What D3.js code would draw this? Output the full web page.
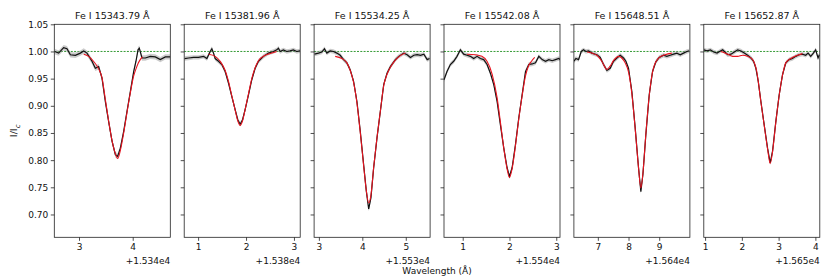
<!DOCTYPE html>
<html>
<head>
<meta charset="utf-8">
<script src="https://cdn.jsdelivr.net/npm/d3@7"></script>
<style>
  body { margin: 0; background: #fff; }
  text { font-family: "DejaVu Sans", sans-serif; }
</style>
</head>
<body>
<div id="plot"></div>
<script>
const width = 830;
const height = 277;

// line titles and the offset printed under each x axis
const titles = ["Fe I 15343.79 Å", "Fe I 15381.96 Å", "Fe I 15534.25 Å", "Fe I 15542.08 Å", "Fe I 15648.51 Å", "Fe I 15652.87 Å"];
const offsets = [15340, 15380, 15530, 15540, 15640, 15650];
const offsetLabels = ["+1.534e4", "+1.538e4", "+1.553e4", "+1.554e4", "+1.564e4", "+1.565e4"];

// x ranges (Å, relative to the offset) and tick values
const xRanges = [[2.54, 4.70], [0.71, 3.13], [2.89, 5.56], [0.60, 3.08], [6.22, 10.0], [0.965, 4.12]];
const xTicks = [[3, 4], [1, 2, 3], [3, 4, 5], [1, 2, 3], [7, 8, 9], [1, 2, 3, 4]];
const yTicks = [0.70, 0.75, 0.80, 0.85, 0.90, 0.95, 1.00, 1.05];
const yRange = [0.658, 1.05];

// flux uncertainty (grey band)
const sigmas = [0.005, 0.004, 0.004, 0.004, 0.004, 0.004];

// observed spectra
const obsWave1 = [2.547, 2.621, 2.714, 2.776, 2.839, 2.932, 3.025, 3.087, 3.149, 3.242, 3.304, 3.366, 3.428, 3.490, 3.552, 3.615, 3.677, 3.720, 3.770, 3.832, 3.894, 3.956, 4.018, 4.061, 4.099, 4.123, 4.173, 4.235, 4.328, 4.421, 4.514, 4.608, 4.701];
const obsFlux1 = [1.000, 0.997, 1.007, 1.005, 0.994, 0.993, 0.997, 1.001, 0.997, 0.982, 0.969, 0.972, 0.951, 0.908, 0.871, 0.835, 0.810, 0.807, 0.822, 0.853, 0.890, 0.926, 0.963, 0.982, 1.003, 1.006, 0.988, 0.988, 0.991, 0.990, 0.985, 0.990, 0.990];

const obsWave2 = [0.718, 0.801, 0.905, 1.009, 1.114, 1.183, 1.252, 1.287, 1.322, 1.356, 1.426, 1.495, 1.565, 1.634, 1.704, 1.773, 1.829, 1.877, 1.926, 1.981, 2.051, 2.120, 2.190, 2.259, 2.364, 2.468, 2.572, 2.641, 2.676, 2.711, 2.780, 2.850, 2.919, 2.988, 3.058, 3.127];
const obsFlux2 = [0.987, 0.988, 0.989, 0.989, 0.991, 0.987, 1.000, 1.005, 0.997, 0.987, 0.982, 0.976, 0.963, 0.942, 0.917, 0.893, 0.874, 0.866, 0.874, 0.893, 0.920, 0.948, 0.969, 0.982, 0.991, 0.997, 1.000, 1.003, 1.006, 1.000, 1.003, 1.000, 1.001, 1.003, 1.000, 1.001];

const obsWave3 = [2.899, 2.991, 3.068, 3.129, 3.183, 3.260, 3.337, 3.414, 3.491, 3.568, 3.645, 3.722, 3.799, 3.876, 3.953, 4.030, 4.092, 4.146, 4.199, 4.261, 4.338, 4.415, 4.492, 4.569, 4.646, 4.761, 4.838, 4.954, 5.031, 5.108, 5.185, 5.262, 5.339, 5.416, 5.493, 5.547];
const obsFlux3 = [0.995, 0.997, 0.999, 1.005, 0.997, 1.001, 1.000, 0.997, 0.993, 0.985, 0.979, 0.966, 0.945, 0.908, 0.853, 0.792, 0.743, 0.710, 0.731, 0.786, 0.841, 0.890, 0.939, 0.960, 0.972, 0.985, 0.991, 0.997, 0.994, 0.989, 0.993, 0.994, 0.993, 0.995, 0.985, 0.987];

const obsWave4 = [0.600, 0.664, 0.736, 0.807, 0.878, 0.950, 1.021, 1.093, 1.164, 1.235, 1.307, 1.378, 1.449, 1.521, 1.592, 1.664, 1.735, 1.806, 1.878, 1.949, 1.999, 2.056, 2.127, 2.199, 2.270, 2.342, 2.413, 2.484, 2.556, 2.627, 2.699, 2.770, 2.841, 2.913, 2.984, 3.055, 3.080];
const obsFlux4 = [0.948, 0.963, 0.976, 0.982, 0.991, 1.003, 0.995, 0.993, 0.991, 0.987, 0.991, 0.987, 0.985, 0.976, 0.960, 0.939, 0.908, 0.865, 0.822, 0.786, 0.770, 0.786, 0.828, 0.878, 0.920, 0.963, 0.976, 0.977, 0.979, 0.991, 0.985, 0.982, 0.985, 0.983, 0.985, 0.987, 0.985];

const obsWave5 = [6.220, 6.285, 6.372, 6.459, 6.535, 6.611, 6.698, 6.806, 6.969, 7.078, 7.186, 7.295, 7.403, 7.512, 7.621, 7.729, 7.838, 7.914, 8.001, 8.109, 8.218, 8.326, 8.402, 8.468, 8.565, 8.674, 8.782, 8.891, 9.000, 9.141, 9.249, 9.358, 9.466, 9.575, 9.684, 9.792, 9.901, 9.977];
const obsFlux5 = [0.982, 0.987, 0.985, 1.000, 1.003, 1.000, 1.001, 0.997, 0.994, 0.989, 0.976, 0.965, 0.969, 0.982, 0.988, 0.993, 0.988, 0.982, 0.969, 0.926, 0.859, 0.786, 0.742, 0.773, 0.847, 0.920, 0.963, 0.981, 0.989, 0.993, 0.991, 0.993, 0.995, 0.997, 0.994, 0.997, 1.000, 1.001];

const obsWave6 = [0.965, 1.054, 1.145, 1.235, 1.325, 1.416, 1.479, 1.524, 1.615, 1.705, 1.795, 1.886, 1.976, 2.066, 2.157, 2.247, 2.319, 2.382, 2.446, 2.518, 2.608, 2.699, 2.771, 2.834, 2.924, 3.015, 3.105, 3.195, 3.286, 3.376, 3.466, 3.557, 3.647, 3.737, 3.801, 3.873, 3.945, 4.008, 4.072, 4.108];
const obsFlux6 = [1.003, 1.001, 1.003, 0.999, 0.997, 1.001, 1.003, 1.000, 0.994, 0.995, 0.999, 1.003, 1.001, 0.997, 0.993, 0.988, 0.982, 0.969, 0.945, 0.908, 0.865, 0.822, 0.795, 0.816, 0.871, 0.920, 0.957, 0.979, 0.985, 0.987, 0.991, 0.994, 0.995, 0.993, 0.997, 0.991, 0.997, 1.003, 0.988, 0.994];

// fitted profiles
const fitWave1 = [3.087, 3.18, 3.27, 3.366, 3.428, 3.49, 3.552, 3.615, 3.677, 3.72, 3.77, 3.832, 3.894, 3.956, 4.018, 4.061, 4.10, 4.14, 4.18];
const fitFlux1 = [0.995, 0.991, 0.982, 0.968, 0.952, 0.912, 0.872, 0.836, 0.812, 0.803, 0.818, 0.850, 0.888, 0.924, 0.955, 0.968, 0.978, 0.985, 0.990];

const fitWave2 = [1.22, 1.356, 1.46, 1.565, 1.634, 1.704, 1.773, 1.829, 1.877, 1.926, 1.981, 2.051, 2.12, 2.19, 2.259, 2.40, 2.54, 2.64];
const fitFlux2 = [0.995, 0.991, 0.982, 0.965, 0.945, 0.918, 0.892, 0.872, 0.864, 0.872, 0.893, 0.922, 0.950, 0.970, 0.983, 0.993, 0.997, 1.000];

const fitWave3 = [3.375, 3.53, 3.645, 3.722, 3.799, 3.876, 3.953, 4.030, 4.092, 4.146, 4.199, 4.261, 4.338, 4.415, 4.492, 4.569, 4.646, 4.761, 4.85, 4.99];
const fitFlux3 = [0.991, 0.987, 0.979, 0.965, 0.943, 0.905, 0.851, 0.790, 0.744, 0.721, 0.736, 0.787, 0.842, 0.890, 0.937, 0.958, 0.971, 0.984, 0.991, 0.997];

const fitWave4 = [1.093, 1.27, 1.41, 1.52, 1.63, 1.735, 1.806, 1.878, 1.949, 1.999, 2.056, 2.127, 2.199, 2.27, 2.342, 2.40, 2.47, 2.54];
const fitFlux4 = [0.995, 0.994, 0.991, 0.982, 0.958, 0.915, 0.870, 0.822, 0.784, 0.768, 0.784, 0.826, 0.876, 0.918, 0.955, 0.972, 0.982, 0.989];

const fitWave5 = [6.65, 6.806, 6.97, 7.13, 7.295, 7.40, 7.51, 7.675, 7.78, 7.89, 8.001, 8.109, 8.218, 8.326, 8.402, 8.468, 8.565, 8.674, 8.81, 9.0, 9.19, 9.41];
const fitFlux5 = [0.999, 0.997, 0.993, 0.982, 0.967, 0.973, 0.983, 0.991, 0.988, 0.979, 0.962, 0.922, 0.857, 0.786, 0.749, 0.775, 0.848, 0.918, 0.969, 0.989, 0.994, 0.997];

const fitWave6 = [1.43, 1.615, 1.75, 1.886, 2.02, 2.157, 2.27, 2.34, 2.40, 2.446, 2.518, 2.608, 2.699, 2.771, 2.834, 2.924, 3.015, 3.105, 3.195, 3.33, 3.51, 3.647];
const fitFlux6 = [1.000, 0.995, 0.991, 0.991, 0.993, 0.991, 0.987, 0.979, 0.965, 0.945, 0.907, 0.864, 0.821, 0.794, 0.815, 0.870, 0.919, 0.956, 0.979, 0.987, 0.993, 0.996];

const obsWaves = [obsWave1, obsWave2, obsWave3, obsWave4, obsWave5, obsWave6];
const obsFluxes = [obsFlux1, obsFlux2, obsFlux3, obsFlux4, obsFlux5, obsFlux6];
const fitWaves = [fitWave1, fitWave2, fitWave3, fitWave4, fitWave5, fitWave6];
const fitFluxes = [fitFlux1, fitFlux2, fitFlux3, fitFlux4, fitFlux5, fitFlux6];

// layout
const panelLeft = 54.3;
const panelStep = 129.9;
const panelWidth = 116;
const plotTop = 24.3;
const plotBottom = 237.3;

const svg = d3.select("#plot").append("svg").attr("width", width).attr("height", height);

const y = d3.scaleLinear().domain(yRange).range([plotBottom, plotTop]);

titles.forEach((title, i) => {
    const x0 = panelLeft + i * panelStep;
    const x = d3.scaleLinear().domain(xRanges[i]).range([x0, x0 + panelWidth]);
    const g = svg.append("g");

    g.append("clipPath").attr("id", "clip" + i)
        .append("rect")
        .attr("x", x0).attr("y", plotTop)
        .attr("width", panelWidth).attr("height", plotBottom - plotTop);

    const plotArea = g.append("g").attr("clip-path", `url(#clip${i})`);

    // continuum level
    plotArea.append("line")
        .attr("x1", x0).attr("x2", x0 + panelWidth)
        .attr("y1", y(1)).attr("y2", y(1))
        .attr("stroke", "green")
        .attr("stroke-width", 0.8)
        .attr("stroke-dasharray", "2,1.3");

    const obs = obsWaves[i].map((w, k) => ({ w: w, f: obsFluxes[i][k] }));
    const fit = fitWaves[i].map((w, k) => ({ w: w, f: fitFluxes[i][k] }));
    const s = sigmas[i];

    plotArea.append("path")
        .datum(obs)
        .attr("d", d3.area().x(d => x(d.w)).y0(d => y(d.f - s)).y1(d => y(d.f + s)))
        .attr("fill", "#999")
        .attr("fill-opacity", 0.5);

    plotArea.append("path")
        .datum(obs)
        .attr("d", d3.line().x(d => x(d.w)).y(d => y(d.f)))
        .attr("fill", "none")
        .attr("stroke", "#111")
        .attr("stroke-width", 1.2);

    plotArea.append("path")
        .datum(fit)
        .attr("d", d3.line().curve(d3.curveMonotoneX).x(d => x(d.w)).y(d => y(d.f)))
        .attr("fill", "none")
        .attr("stroke", "#e8131f")
        .attr("stroke-width", 1.1);

    // axes
    const xAxis = g.append("g")
        .attr("transform", `translate(0,${plotBottom})`)
        .call(d3.axisBottom(x).tickValues(xTicks[i]).tickFormat(d3.format("d")).tickSize(3.5).tickPadding(2.5));

    const yAxis = g.append("g")
        .attr("transform", `translate(${x0},0)`)
        .call(d3.axisLeft(y).tickValues(yTicks).tickFormat(i === 0 ? d3.format(".2f") : "").tickSize(3.5).tickPadding(2.5));

    [xAxis, yAxis].forEach(a => {
        a.select(".domain").remove();
        a.selectAll("line").attr("stroke", "#222").attr("stroke-width", 0.8);
        a.selectAll("text").attr("fill", "#111").style("font-size", "9px").style("font-family", "DejaVu Sans");
    });

    g.append("rect")
        .attr("x", x0).attr("y", plotTop)
        .attr("width", panelWidth).attr("height", plotBottom - plotTop)
        .attr("fill", "none")
        .attr("stroke", "#222")
        .attr("stroke-width", 0.8);

    g.append("text")
        .attr("x", x0 + panelWidth / 2)
        .attr("y", 18.5)
        .attr("text-anchor", "middle")
        .style("font-size", "9.5px")
        .attr("fill", "#111")
        .text(title);

    g.append("text")
        .attr("x", x0 + panelWidth)
        .attr("y", 264)
        .attr("text-anchor", "end")
        .style("font-size", "9px")
        .attr("fill", "#111")
        .text(offsetLabels[i]);
});

svg.append("text")
    .attr("x", (panelLeft + panelLeft + 5 * panelStep + panelWidth) / 2)
    .attr("y", 273.5)
    .attr("text-anchor", "middle")
    .style("font-size", "9px")
    .attr("fill", "#111")
    .text("Wavelength (Å)");

const ylab = svg.append("text")
    .attr("transform", `translate(17,${(plotTop + plotBottom) / 2}) rotate(-90)`)
    .attr("text-anchor", "middle")
    .style("font-size", "9.5px")
    .attr("fill", "#111");
ylab.append("tspan").text("I/I");
ylab.append("tspan").attr("dy", 2.5).style("font-size", "7px").style("font-style", "italic").text("c");
</script>
</body>
</html>
